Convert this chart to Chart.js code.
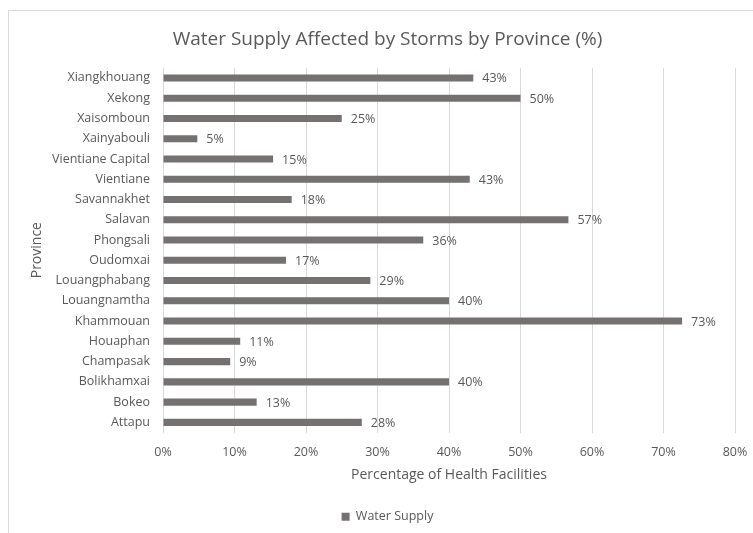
<!DOCTYPE html>
<html>
<head>
<meta charset="utf-8">
<script src="https://cdn.jsdelivr.net/npm/chart.js@4.4.1/dist/chart.umd.min.js"></script>
<style>
  html, body { margin: 0; padding: 0; background: #fff; }
  #wrap { width: 753px; height: 533px; }
</style>
</head>
<body>
<div id="wrap"><canvas id="chart" width="753" height="533"></canvas></div>
<script>
// provinces, bottom to top as in the source sheet
const provinces = ['Attapu', 'Bokeo', 'Bolikhamxai', 'Champasak', 'Houaphan', 'Khammouan',
  'Louangnamtha', 'Louangphabang', 'Oudomxai', 'Phongsali', 'Salavan', 'Savannakhet',
  'Vientiane', 'Vientiane Capital', 'Xainyabouli', 'Xaisomboun', 'Xekong', 'Xiangkhouang']
const waterSupply = [27.8, 13.1, 40.0, 9.4, 10.8, 72.6, 40.0, 29.0, 17.2, 36.4, 56.7, 18.0,
  42.9, 15.4, 4.8, 25.0, 50.0, 43.4]
const seriesName = 'Water Supply'

const FONT = "'Open Sans', sans-serif"
const GREY_TEXT = '#595959'

// outer frame like the Excel chart border
const framePlugin = {
  id: 'frame',
  beforeDraw(chart) {
    const ctx = chart.ctx
    ctx.save()
    ctx.fillStyle = '#fff'
    ctx.fillRect(0, 0, chart.width, chart.height)
    ctx.strokeStyle = '#d9d9d9'
    ctx.lineWidth = 1
    ctx.strokeRect(8.5, 10.5, chart.width + 20, chart.height + 20)
    ctx.restore()
  },
  // Excel centres title + legend on the frame, a bit right of the chart centre
  afterLayout(chart) {
    [chart.titleBlock, chart.legend].forEach(b => {
      if (b) { b.left += 16; b.right += 16 }
    })
  }
}

// value labels at the end of each bar
const valueLabels = {
  id: 'valueLabels',
  afterDatasetsDraw(chart) {
    const ctx = chart.ctx
    const meta = chart.getDatasetMeta(0)
    ctx.save()
    ctx.font = '12.5px ' + FONT
    ctx.fillStyle = GREY_TEXT
    ctx.textAlign = 'left'
    ctx.textBaseline = 'middle'
    meta.data.forEach((bar, i) => {
      const v = chart.data.datasets[0].data[i]
      ctx.fillText(Math.round(v) + '%', bar.x + 9, bar.y + 1)
    })
    ctx.restore()
  }
}

new Chart(document.getElementById('chart').getContext('2d'), {
  type: 'bar',
  data: {
    labels: provinces,
    datasets: [{
      label: seriesName,
      data: waterSupply,
      backgroundColor: '#767171',
      borderWidth: 0,
      barPercentage: 0.35,
      categoryPercentage: 1.0
    }]
  },
  options: {
    indexAxis: 'y',
    responsive: false,
    animation: false,
    devicePixelRatio: 1,
    layout: { padding: { left: 8, right: 18, top: 0, bottom: 0 } },
    plugins: {
      title: {
        display: true,
        text: 'Water Supply Affected by Storms by Province (%)',
        color: GREY_TEXT,
        font: { family: FONT, size: 19, weight: 'normal' },
        padding: { top: 28, bottom: 17 }
      },
      legend: {
        position: 'bottom',
        labels: {
          color: GREY_TEXT,
          font: { family: FONT, size: 12.5 },
          boxWidth: 8,
          boxHeight: 8,
          padding: 27
        }
      },
      tooltip: { enabled: false }
    },
    scales: {
      x: {
        min: 0,
        max: 80,
        ticks: {
          stepSize: 10,
          color: GREY_TEXT,
          font: { family: FONT, size: 12.5 },
          padding: 4,
          maxRotation: 0,
          callback: v => v + '%'
        },
        // invisible tick marks push the labels down without widening the right padding
        grid: { color: '#d9d9d9', drawTicks: true, tickLength: 8, tickColor: 'rgba(0,0,0,0)' },
        border: { display: false },
        title: {
          display: true,
          text: 'Percentage of Health Facilities',
          color: GREY_TEXT,
          font: { family: FONT, size: 14 },
          padding: { top: 0, bottom: 0 }
        },
        afterFit(scale) { scale.height = 51 }
      },
      y: {
        reverse: true,
        ticks: {
          color: GREY_TEXT,
          font: { family: FONT, size: 12.5 },
          padding: 13,
          autoSkip: false
        },
        grid: { display: false, drawTicks: false },
        border: { display: false },
        title: {
          display: true,
          text: 'Province',
          color: GREY_TEXT,
          font: { family: FONT, size: 14 },
          padding: { top: 21, bottom: 0 }
        },
        afterFit(scale) { scale.width = 155 }
      }
    }
  },
  plugins: [framePlugin, valueLabels]
})
</script>
</body>
</html>
